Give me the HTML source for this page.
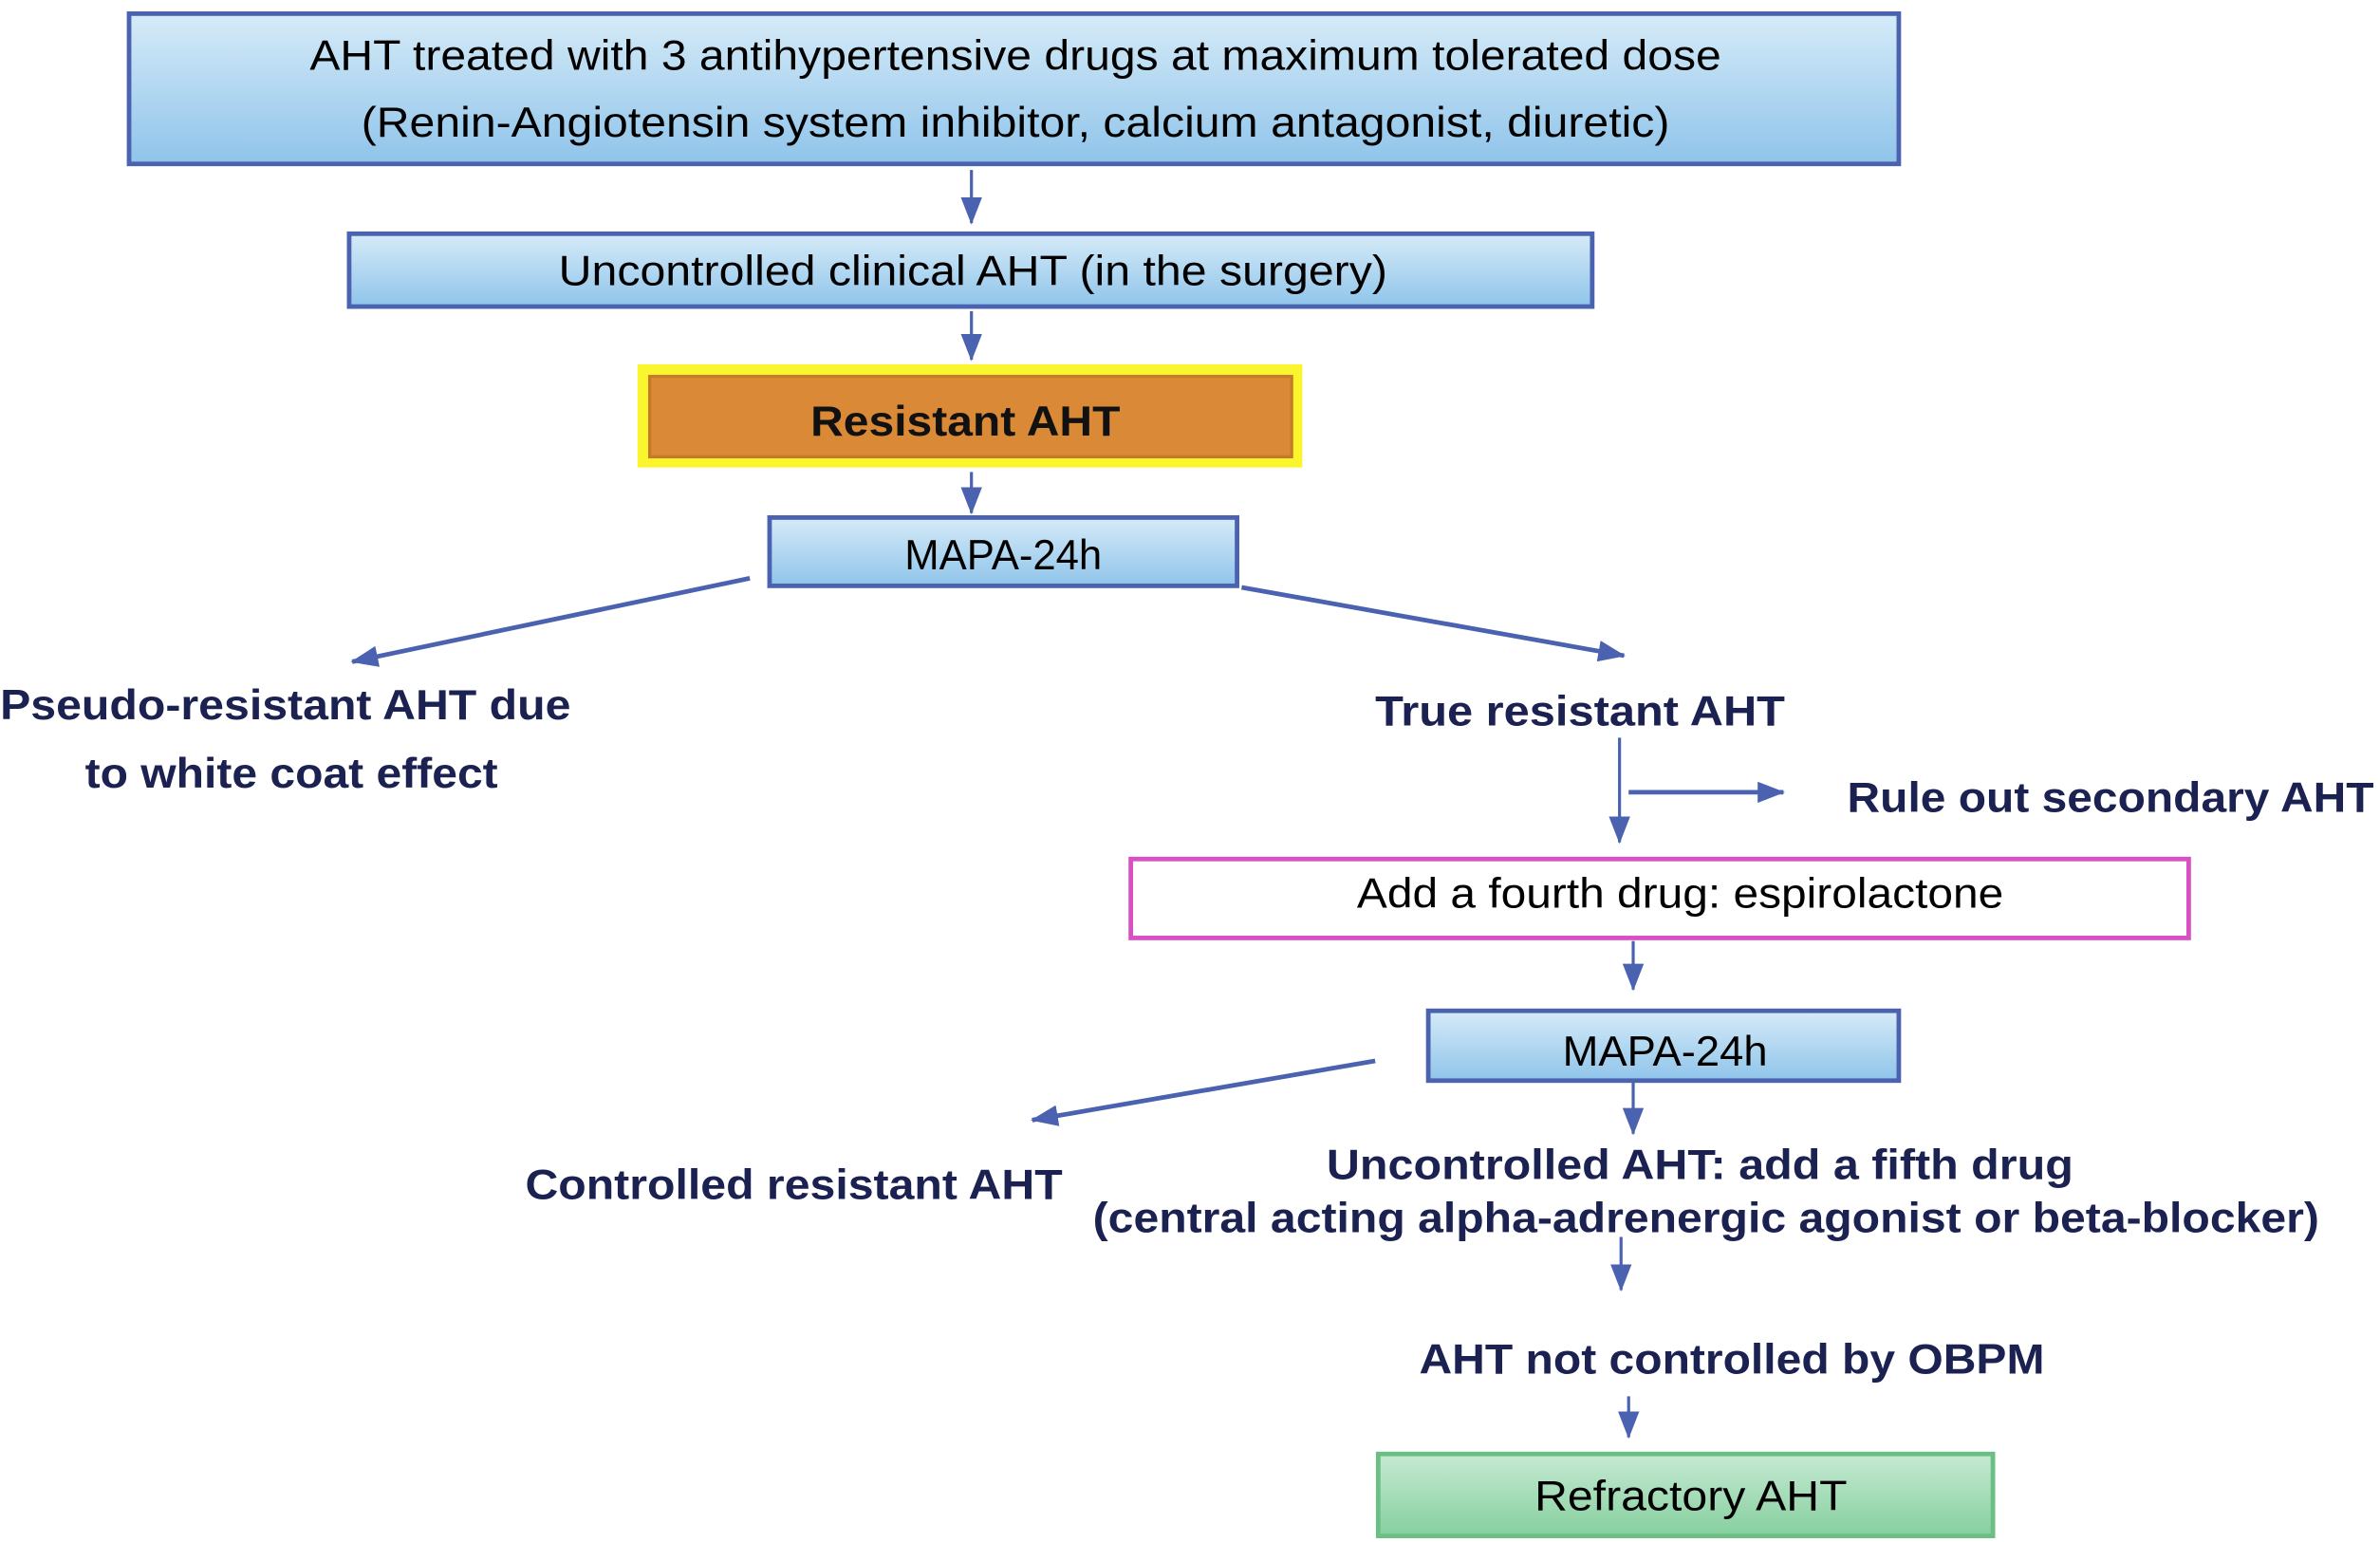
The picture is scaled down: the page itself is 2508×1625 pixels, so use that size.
<!DOCTYPE html>
<html><head><meta charset="utf-8"><style>
html,body{margin:0;padding:0;background:#fff;}
svg{display:block;}
text{font-family:"Liberation Sans",Arial,sans-serif;}
.b{font-size:28px;fill:#000;}
.n{font-size:28px;font-weight:bold;fill:#1b2150;}
</style></head><body>
<svg width="2508" height="1625" viewBox="0 0 1568 1016" xmlns="http://www.w3.org/2000/svg">
<defs>
<linearGradient id="bl" x1="0" y1="0" x2="0" y2="1"><stop offset="0" stop-color="#d6ebf8"/><stop offset="1" stop-color="#8fc4ea"/></linearGradient>
<linearGradient id="gr" x1="0" y1="0" x2="0" y2="1"><stop offset="0" stop-color="#c6ead3"/><stop offset="1" stop-color="#86cf9e"/></linearGradient>
<marker id="ah" markerWidth="10" markerHeight="10" refX="9" refY="5" orient="auto" markerUnits="userSpaceOnUse" viewBox="0 0 10 10"><path d="M0,0 L10,5 L0,10 z" fill="#4a62b0"/></marker>
<marker id="ah2" markerWidth="18" markerHeight="14" refX="17" refY="7" orient="auto" markerUnits="userSpaceOnUse" viewBox="0 0 18 14"><path d="M0,0 L18,7 L0,14 z" fill="#4a62b0"/></marker>
</defs>
<g stroke="#4a62b0" stroke-width="2" fill="none">
<line x1="640" y1="112" x2="640" y2="147" marker-end="url(#ah2)"/>
<line x1="640" y1="205" x2="640" y2="237" marker-end="url(#ah2)"/>
<line x1="640" y1="311" x2="640" y2="338" marker-end="url(#ah2)"/>
<line x1="494" y1="381" x2="232" y2="436" stroke-width="3" marker-end="url(#ah2)"/>
<line x1="818" y1="387" x2="1070" y2="432" stroke-width="3" marker-end="url(#ah2)"/>
<line x1="1067" y1="486" x2="1067" y2="555" marker-end="url(#ah2)"/>
<line x1="1073" y1="522" x2="1175" y2="522" stroke-width="3" marker-end="url(#ah2)"/>
<line x1="1076" y1="620" x2="1076" y2="652" marker-end="url(#ah2)"/>
<line x1="906" y1="699" x2="680" y2="738" stroke-width="3" marker-end="url(#ah2)"/>
<line x1="1076" y1="712" x2="1076" y2="747" marker-end="url(#ah2)"/>
<line x1="1068" y1="815" x2="1068" y2="850" marker-end="url(#ah2)"/>
<line x1="1073" y1="920" x2="1073" y2="947" marker-end="url(#ah2)"/>
</g>
<rect x="85" y="9" width="1166" height="99" fill="url(#bl)" stroke="#4a62b0" stroke-width="3"/>
<text class="b" x="669" y="46" text-anchor="middle" textLength="930" lengthAdjust="spacingAndGlyphs">AHT treated with 3 antihypertensive drugs at maximum tolerated dose</text>
<text class="b" x="669" y="90" text-anchor="middle" textLength="862" lengthAdjust="spacingAndGlyphs">(Renin-Angiotensin system inhibitor, calcium antagonist, diuretic)</text>
<rect x="230" y="154" width="819" height="48" fill="url(#bl)" stroke="#4a62b0" stroke-width="3"/>
<text class="b" x="641" y="188" text-anchor="middle" textLength="546" lengthAdjust="spacingAndGlyphs">Uncontrolled clinical AHT (in the surgery)</text>
<rect x="420" y="240" width="438" height="68" fill="#fbf52e"/>
<rect x="428" y="248" width="423" height="53" fill="#da8a36" stroke="#c57a2a" stroke-width="2"/>
<text x="636" y="287" text-anchor="middle" style="font-size:28px;font-weight:bold;fill:#111" textLength="204" lengthAdjust="spacingAndGlyphs">Resistant AHT</text>
<rect x="507" y="341" width="308" height="45" fill="url(#bl)" stroke="#4a62b0" stroke-width="3"/>
<text class="b" x="661" y="375" text-anchor="middle" textLength="130" lengthAdjust="spacingAndGlyphs">MAPA-24h</text>
<text class="n" x="188" y="474" text-anchor="middle" textLength="376" lengthAdjust="spacingAndGlyphs">Pseudo-resistant AHT due</text>
<text class="n" x="192" y="519" text-anchor="middle" textLength="272" lengthAdjust="spacingAndGlyphs">to white coat effect</text>
<text class="n" x="1041" y="478" text-anchor="middle" textLength="270" lengthAdjust="spacingAndGlyphs">True resistant AHT</text>
<text class="n" x="1217" y="535" textLength="347" lengthAdjust="spacingAndGlyphs">Rule out secondary AHT</text>
<rect x="745" y="566" width="697" height="52" fill="#fff" stroke="#d94fc4" stroke-width="3"/>
<text class="b" x="1107" y="598" text-anchor="middle" textLength="426" lengthAdjust="spacingAndGlyphs">Add a fourth drug: espirolactone</text>
<rect x="941" y="666" width="310" height="46" fill="url(#bl)" stroke="#4a62b0" stroke-width="3"/>
<text class="b" x="1097" y="702" text-anchor="middle" textLength="135" lengthAdjust="spacingAndGlyphs">MAPA-24h</text>
<text class="n" x="523" y="790" text-anchor="middle" textLength="354" lengthAdjust="spacingAndGlyphs">Controlled resistant AHT</text>
<text class="n" x="1120" y="777" text-anchor="middle" textLength="492" lengthAdjust="spacingAndGlyphs">Uncontrolled AHT: add a fifth drug</text>
<text class="n" x="1124" y="812" text-anchor="middle" textLength="808" lengthAdjust="spacingAndGlyphs">(central acting alpha-adrenergic agonist or beta-blocker)</text>
<text class="n" x="1141" y="905" text-anchor="middle" textLength="412" lengthAdjust="spacingAndGlyphs">AHT not controlled by OBPM</text>
<rect x="908" y="958" width="405" height="54" fill="url(#gr)" stroke="#6cbf84" stroke-width="3"/>
<text class="b" x="1114" y="995" text-anchor="middle" textLength="206" lengthAdjust="spacingAndGlyphs">Refractory AHT</text>
</svg>
</body></html>
